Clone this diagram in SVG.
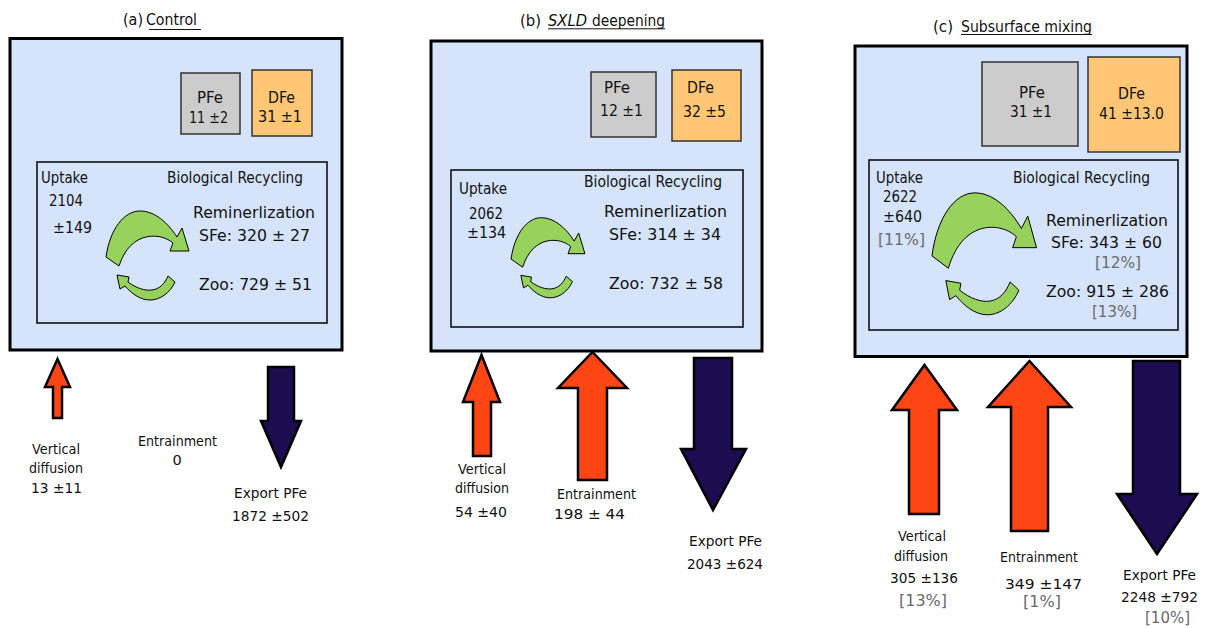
<svg xmlns="http://www.w3.org/2000/svg" xmlns:xlink="http://www.w3.org/1999/xlink" width="1205" height="628" viewBox="0 0 1205 628">
<style>
text{font-family:"DejaVu Sans","Liberation Sans",sans-serif;fill:#111;}
.t{font-size:16px;}
.v{font-size:16px;}
.n{font-size:15.5px;}
.s{font-size:14.5px;}
.g{font-size:15px;fill:#6a6a6a;}
.outer{fill:#d5e4fb;stroke:#000;stroke-width:3;}
.inner{fill:none;stroke:#111;stroke-width:1.6;}
.pfe{fill:#cccccc;stroke:#333;stroke-width:1.5;}
.dfe{fill:#ffc676;stroke:#333;stroke-width:1.5;}
.up{fill:#fe4614;stroke:#000;stroke-width:2.5;stroke-linejoin:miter;}
.down{fill:#1c0c50;stroke:#000;stroke-width:2.5;}
.grn{fill:#97d35c;stroke:#000;stroke-width:1;vector-effect:non-scaling-stroke;stroke-linejoin:miter;}
.ul{stroke:#111;stroke-width:1;}
</style>
<defs>
<g id="recycle">
<path class="grn" d="M106,257 C110,229 124,211 140,211 C155,211 168,223 177,237 L182,228 L189,251 L170,251 L173,243 C162,233 131,229 119,266 Z"/>
<path class="grn" d="M117,275 L129,277 L128,282 C136,288 145,291 152,290 C160,289 165,283 168,276 L175,282 C170,293 160,300 150,300 C140,300 131,293 125,286 L120,289 Z"/>
</g>
</defs>

<g id="panel-a">
<text class="t" x="123" y="25" textLength="20" lengthAdjust="spacingAndGlyphs">(a)</text>
<text class="t" x="146" y="25" textLength="51" lengthAdjust="spacingAndGlyphs">Control</text>
<line class="ul" x1="149" y1="29.5" x2="201" y2="29.5"/>
<rect class="outer" x="10" y="38.5" width="332" height="311.5"/>
</g>
<g id="pfe-a">
<rect class="pfe" x="181" y="73" width="59" height="61"/>
<text class="v" x="197" y="103" textLength="26" lengthAdjust="spacingAndGlyphs">PFe</text>
<text class="v" x="189" y="123" textLength="39" lengthAdjust="spacingAndGlyphs">11 ±2</text>
</g>
<g id="dfe-a">
<rect class="dfe" x="252" y="70" width="60" height="66"/>
<text class="v" x="268" y="103" textLength="27" lengthAdjust="spacingAndGlyphs">DFe</text>
<text class="v" x="258" y="122" textLength="44" lengthAdjust="spacingAndGlyphs">31 ±1</text>
</g>
<g id="bio-a">
<rect class="inner" x="37" y="162" width="290" height="161"/>
<text class="v" x="41" y="183" textLength="47" lengthAdjust="spacingAndGlyphs">Uptake</text>
<text class="v" x="49" y="205.5" textLength="34" lengthAdjust="spacingAndGlyphs">2104</text>
<text class="v" x="53" y="232.5" textLength="39" lengthAdjust="spacingAndGlyphs">±149</text>
<text class="v" x="167" y="183" textLength="136" lengthAdjust="spacingAndGlyphs">Biological Recycling</text>
<text class="n" x="193" y="218" textLength="122" lengthAdjust="spacingAndGlyphs">Reminerlization</text>
<text class="n" x="199" y="241" textLength="111" lengthAdjust="spacingAndGlyphs">SFe: 320 ± 27</text>
<text class="n" x="199" y="290" textLength="113" lengthAdjust="spacingAndGlyphs">Zoo: 729 ± 51</text>
</g>
<g id="labels-a">
<text class="s" x="32" y="454" textLength="48" lengthAdjust="spacingAndGlyphs">Vertical</text>
<text class="s" x="29" y="473" textLength="54" lengthAdjust="spacingAndGlyphs">diffusion</text>
<text class="s" x="31" y="493" textLength="51" lengthAdjust="spacingAndGlyphs">13 ±11</text>
<text class="s" x="138" y="446" textLength="79" lengthAdjust="spacingAndGlyphs">Entrainment</text>
<text class="s" x="177" y="465" text-anchor="middle">0</text>
<text class="s" x="234" y="498" textLength="73" lengthAdjust="spacingAndGlyphs">Export PFe</text>
<text class="s" x="232" y="521" textLength="77" lengthAdjust="spacingAndGlyphs">1872 ±502</text>
</g>

<g id="panel-b">
<text class="t" x="520" y="26" textLength="21" lengthAdjust="spacingAndGlyphs">(b)</text>
<text class="t" x="548" y="26" font-style="italic" textLength="39" lengthAdjust="spacingAndGlyphs">SXLD</text>
<text class="t" x="592" y="26" textLength="73" lengthAdjust="spacingAndGlyphs">deepening</text>
<line class="ul" x1="548" y1="28.8" x2="665" y2="28.8"/>
<rect class="outer" x="431" y="41" width="331" height="310"/>
</g>
<g id="pfe-b">
<rect class="pfe" x="591" y="72" width="65" height="65"/>
<text class="v" x="604" y="93" textLength="26" lengthAdjust="spacingAndGlyphs">PFe</text>
<text class="v" x="600" y="116" textLength="43" lengthAdjust="spacingAndGlyphs">12 ±1</text>
</g>
<g id="dfe-b">
<rect class="dfe" x="672" y="70" width="69" height="71"/>
<text class="v" x="687" y="93" textLength="27" lengthAdjust="spacingAndGlyphs">DFe</text>
<text class="v" x="683" y="117" textLength="43" lengthAdjust="spacingAndGlyphs">32 ±5</text>
</g>
<g id="bio-b">
<rect class="inner" x="451" y="170" width="292" height="157"/>
<text class="v" x="459" y="194" textLength="48" lengthAdjust="spacingAndGlyphs">Uptake</text>
<text class="v" x="469" y="219" textLength="34" lengthAdjust="spacingAndGlyphs">2062</text>
<text class="v" x="467" y="238" textLength="39" lengthAdjust="spacingAndGlyphs">±134</text>
<text class="v" x="584" y="187" textLength="138" lengthAdjust="spacingAndGlyphs">Biological Recycling</text>
<text class="n" x="604" y="217" textLength="123" lengthAdjust="spacingAndGlyphs">Reminerlization</text>
<text class="n" x="609" y="240" textLength="112" lengthAdjust="spacingAndGlyphs">SFe: 314 ± 34</text>
<text class="n" x="609" y="289" textLength="114" lengthAdjust="spacingAndGlyphs">Zoo: 732 ± 58</text>
</g>
<g id="labels-b">
<text class="s" x="458" y="474" textLength="48" lengthAdjust="spacingAndGlyphs">Vertical</text>
<text class="s" x="455" y="493" textLength="54" lengthAdjust="spacingAndGlyphs">diffusion</text>
<text class="s" x="455" y="517" textLength="52" lengthAdjust="spacingAndGlyphs">54 ±40</text>
<text class="s" x="557" y="499" textLength="79" lengthAdjust="spacingAndGlyphs">Entrainment</text>
<text class="s" x="554" y="519" textLength="71" lengthAdjust="spacingAndGlyphs">198 ± 44</text>
<text class="s" x="689" y="546" textLength="73" lengthAdjust="spacingAndGlyphs">Export PFe</text>
<text class="s" x="687" y="569" textLength="76" lengthAdjust="spacingAndGlyphs">2043 ±624</text>
</g>

<g id="panel-c">
<text class="t" x="933" y="32" textLength="20" lengthAdjust="spacingAndGlyphs">(c)</text>
<text class="t" x="961" y="32" textLength="131" lengthAdjust="spacingAndGlyphs">Subsurface mixing</text>
<line class="ul" x1="961" y1="34.5" x2="1092" y2="34.5"/>
<rect class="outer" x="855" y="46" width="332" height="310.5"/>
</g>
<g id="pfe-c">
<rect class="pfe" x="982" y="62" width="96" height="84"/>
<text class="v" x="1019" y="98" textLength="26" lengthAdjust="spacingAndGlyphs">PFe</text>
<text class="v" x="1010" y="117" textLength="42" lengthAdjust="spacingAndGlyphs">31 ±1</text>
</g>
<g id="dfe-c">
<rect class="dfe" x="1088" y="57" width="92" height="95"/>
<text class="v" x="1118" y="99" textLength="27" lengthAdjust="spacingAndGlyphs">DFe</text>
<text class="v" x="1099" y="119" textLength="65" lengthAdjust="spacingAndGlyphs">41 ±13.0</text>
</g>
<g id="bio-c">
<rect class="inner" x="869" y="160" width="309" height="170"/>
<text class="v" x="876" y="183" textLength="47" lengthAdjust="spacingAndGlyphs">Uptake</text>
<text class="v" x="883" y="202" textLength="34" lengthAdjust="spacingAndGlyphs">2622</text>
<text class="v" x="883" y="222" textLength="39" lengthAdjust="spacingAndGlyphs">±640</text>
<text class="g" x="878" y="245" textLength="47" lengthAdjust="spacingAndGlyphs">[11%]</text>
<text class="v" x="1013" y="183" textLength="137" lengthAdjust="spacingAndGlyphs">Biological Recycling</text>
<text class="n" x="1046" y="226" textLength="122" lengthAdjust="spacingAndGlyphs">Reminerlization</text>
<text class="n" x="1051" y="248" textLength="111" lengthAdjust="spacingAndGlyphs">SFe: 343 ± 60</text>
<text class="g" x="1095" y="268" textLength="46" lengthAdjust="spacingAndGlyphs">[12%]</text>
<text class="n" x="1046" y="297" textLength="123" lengthAdjust="spacingAndGlyphs">Zoo: 915 ± 286</text>
<text class="g" x="1092" y="317" textLength="45" lengthAdjust="spacingAndGlyphs">[13%]</text>
</g>
<g id="labels-c">
<text class="s" x="898" y="541" textLength="48" lengthAdjust="spacingAndGlyphs">Vertical</text>
<text class="s" x="894" y="561" textLength="54" lengthAdjust="spacingAndGlyphs">diffusion</text>
<text class="s" x="890" y="583" textLength="68" lengthAdjust="spacingAndGlyphs">305 ±136</text>
<text class="g" x="899" y="606" textLength="48" lengthAdjust="spacingAndGlyphs">[13%]</text>
<text class="s" x="1000" y="562" textLength="78" lengthAdjust="spacingAndGlyphs">Entrainment</text>
<text class="s" x="1005" y="589" textLength="77" lengthAdjust="spacingAndGlyphs">349 ±147</text>
<text class="g" x="1023" y="607" textLength="38" lengthAdjust="spacingAndGlyphs">[1%]</text>
<text class="s" x="1123" y="580" textLength="73" lengthAdjust="spacingAndGlyphs">Export PFe</text>
<text class="s" x="1121" y="602" textLength="77" lengthAdjust="spacingAndGlyphs">2248 ±792</text>
<text class="g" x="1145" y="623" textLength="45" lengthAdjust="spacingAndGlyphs">[10%]</text>
</g>

<g id="connectors">
<use xlink:href="#recycle" href="#recycle"/>
<use xlink:href="#recycle" href="#recycle" transform="matrix(0.89 0 0 0.9 416.7 27.8)"/>
<use xlink:href="#recycle" href="#recycle" transform="matrix(1.26 0 0 1.37 798.4 -96.2)"/>
<polygon class="up" points="57.5,359 70,387 62,387 62,418 53,418 53,387 45,387"/>
<polygon class="down" points="268,367 294,367 294,421 301,421 281,467 261,421 268,421"/>
<polygon class="up" points="481.5,355 500,402 491,402 491,456 473,456 473,402 463,402"/>
<polygon class="up" points="592.5,352 627,388 607,388 607,480 578,480 578,388 558,388"/>
<polygon class="down" points="694,358 732,358 732,449 746,449 713,510 681,449 694,449"/>
<polygon class="up" points="924.5,365 957,410 939,410 939,514 909,514 909,410 892,410"/>
<polygon class="up" points="1029.5,361 1071,407 1048,407 1048,531 1011,531 1011,407 988,407"/>
<polygon class="down" points="1133,361 1180,361 1180,494 1197,494 1157,554 1117,494 1133,494"/>
</g>
</svg>
